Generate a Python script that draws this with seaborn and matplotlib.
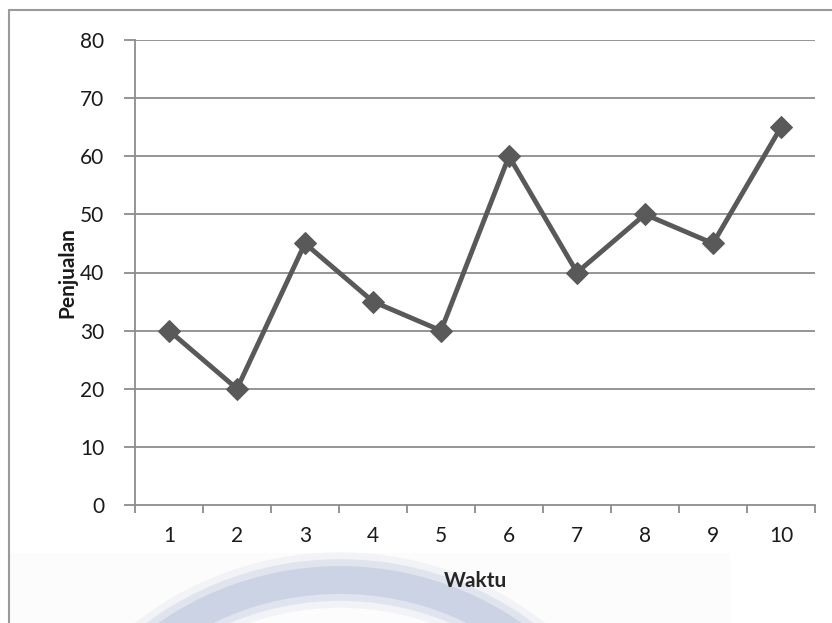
import matplotlib
matplotlib.use("Agg")
import matplotlib.pyplot as plt
from matplotlib.patches import Arc, Rectangle
from matplotlib.ticker import FixedLocator, NullFormatter
import seaborn as sns
import pandas as pd

# -----------------------------
# Data
# -----------------------------
waktu = [1, 2, 3, 4, 5, 6, 7, 8, 9, 10]
penjualan = [30, 20, 45, 35, 30, 60, 40, 50, 45, 65]
y_ticks = [0, 10, 20, 30, 40, 50, 60, 70, 80]

df = pd.DataFrame({"Waktu": waktu, "Penjualan": penjualan})

sns.set_style("white")
plt.rcParams["font.family"] = ["Lato", "DejaVu Sans"]

grid_col = "#8c8c8c"
line_col = "#595959"
text_col = "#1a1a1a"

fig = plt.figure(figsize=(8.32, 6.23), dpi=100)

# -----------------------------
# Background: faint watermark + frame (pixel coordinates)
# -----------------------------
bg = fig.add_axes([0, 0, 1, 1], zorder=0)
bg.set_xlim(0, 832)
bg.set_ylim(623, 0)
bg.axis("off")
bg.add_patch(Rectangle((10, 553), 720, 80, facecolor="#fcfcfc", edgecolor="none"))
for lw, a in [(40, 0.15), (30, 0.3), (20, 0.5)]:
    bg.add_patch(Arc((340, 885), 2 * 305, 2 * 305, theta1=180, theta2=360,
                     color="#b9c3dc", lw=lw, alpha=a))
bg.plot([9, 9], [10, 623], color="#9a9a9a", lw=1.5)
bg.plot([9, 832], [10, 10], color="#9a9a9a", lw=1.5)

# -----------------------------
# Line chart
# -----------------------------
ax = fig.add_axes([135 / 832, 118 / 623, 680 / 832, 465 / 623], zorder=1)
ax.set_facecolor("none")
sns.lineplot(x="Waktu", y="Penjualan", data=df, ax=ax, color=line_col,
             linewidth=3.5, marker="D", markersize=11,
             markeredgecolor=line_col, markerfacecolor=line_col, zorder=3)

ax.set_xlim(0.5, len(waktu) + 0.5)
ax.set_ylim(0, 80)
ax.set_yticks(y_ticks)
for t in y_ticks[1:]:
    ax.axhline(t, color=grid_col, lw=1.3, zorder=1)

# category ticks between points, labels centred under them
ax.xaxis.set_major_locator(FixedLocator([i + 0.5 for i in range(len(waktu) + 1)]))
ax.xaxis.set_major_formatter(NullFormatter())
ax.xaxis.set_minor_locator(FixedLocator(waktu))
ax.set_xticklabels([str(w) for w in waktu], minor=True)
ax.tick_params(axis="x", which="major", direction="out", length=6, width=1.3,
               color=grid_col, bottom=True)
ax.tick_params(axis="x", which="minor", length=0, pad=15, labelsize=15,
               labelcolor=text_col)
ax.tick_params(axis="y", direction="out", length=8, width=1.3, color=grid_col,
               left=True, pad=14, labelsize=15, labelcolor=text_col)

for s in ["top", "right"]:
    ax.spines[s].set_visible(False)
for s in ["left", "bottom"]:
    ax.spines[s].set_color(grid_col)
    ax.spines[s].set_linewidth(1.3)

ax.set_xlabel("Waktu", fontsize=15, fontweight="bold", color="#262626", labelpad=18)
ax.set_ylabel("Penjualan", fontsize=15, fontweight="bold", color=text_col, labelpad=2)

fig.savefig("out.png", dpi=100)
plt.close()
